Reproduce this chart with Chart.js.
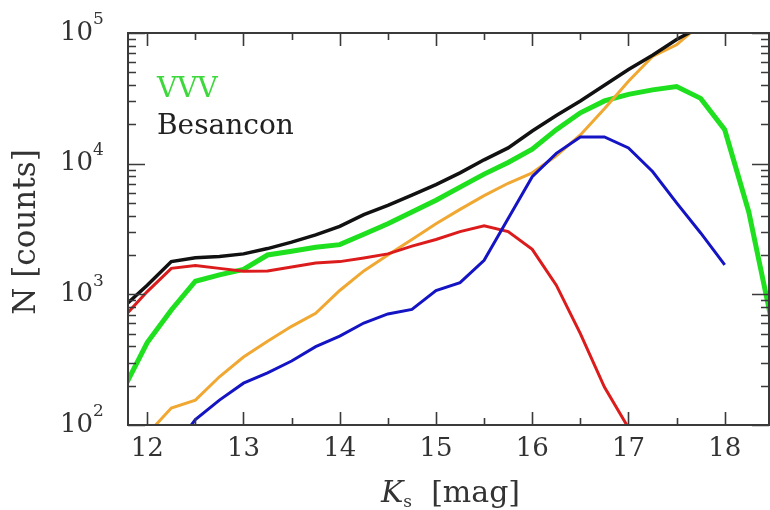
<!DOCTYPE html>
<html>
<head>
<meta charset="utf-8">
<script src="https://cdn.jsdelivr.net/npm/chart.js@4.4.1/dist/chart.umd.min.js"></script>
<style>
  html, body { margin: 0; padding: 0; background: #fff; }
  #wrap { width: 770px; height: 510px; }
</style>
</head>
<body>
<div id="wrap"><canvas id="ksChart" width="770" height="510"></canvas></div>
<script>
// Ks magnitude bins (0.25 mag)
const mags = [11.75, 12.0, 12.25, 12.5, 12.75, 13.0, 13.25, 13.5, 13.75, 14.0, 14.25, 14.5, 14.75,
  15.0, 15.25, 15.5, 15.75, 16.0, 16.25, 16.5, 16.75, 17.0, 17.25, 17.5, 17.75, 18.0, 18.25, 18.5];

// star counts per bin
const besancon = [795, 1175, 1780, 1905, 1950, 2040, 2240, 2510, 2850, 3310, 4070, 4790, 5750,
  6920, 8510, 10700, 13200, 17800, 23400, 30200, 39800, 52500, 67600, 89100, 112000, null, null, null];
const vvv = [186, 427, 759, 1260, 1410, 1550, 2000, 2140, 2290, 2400, 2880, 3470, 4270,
  5250, 6610, 8320, 10200, 12900, 18200, 24500, 30200, 33900, 36700, 38900, 31600, 18200, 4270, 562];
const redCounts = [661, 1050, 1580, 1660, 1580, 1500, 1510, 1620, 1740, 1780, 1900, 2040, 2340,
  2630, 3020, 3350, 3020, 2210, 1175, 500, 195, 95, null, null, null, null, null, null];
const orangeCounts = [null, 85, 135, 155, 234, 331, 437, 569, 716, 1070, 1510, 2000, 2630,
  3470, 4470, 5690, 7080, 8510, 11500, 16600, 26300, 42700, 66100, 81300, 117000, null, null, null];
const blueCounts = [null, null, 63, 110, 155, 209, 251, 309, 398, 479, 603, 708, 767,
  1070, 1230, 1820, 3800, 7940, 12000, 16000, 16000, 13200, 8710, 5010, 2950, 1680, null, null];

const xTicks = [12, 13, 14, 15, 16, 17, 18];
const yDecades = [2, 3, 4, 5];

const pts = arr => mags.map((m, i) => ({ x: m, y: arr[i] })).filter(p => p.y !== null);
const line = (data, color, w) => ({ data: pts(data), borderColor: color, borderWidth: w,
  pointRadius: 0, tension: 0, fill: false });

const serif = '"DejaVu Serif", serif';

// frame, inward ticks, labels and titles
const axesPlugin = {
  id: 'axesPlugin',
  afterDraw(chart) {
    const { ctx, chartArea: a, scales: { x, y } } = chart;
    ctx.save();
    ctx.strokeStyle = '#3a3a3a';
    ctx.lineWidth = 2;
    ctx.strokeRect(a.left, a.top, a.right - a.left, a.bottom - a.top);

    ctx.lineWidth = 1.6;
    ctx.beginPath();
    for (let v = 12; v <= x.max; v += 0.5) {
      const px = Math.round(x.getPixelForValue(v)) + 0.5;
      const len = Number.isInteger(v) ? 13 : 7;
      ctx.moveTo(px, a.bottom); ctx.lineTo(px, a.bottom - len);
      ctx.moveTo(px, a.top); ctx.lineTo(px, a.top + len);
    }
    yDecades.forEach(d => {
      for (let m = 1; m <= 9; m++) {
        const v = m * Math.pow(10, d);
        if (v > y.max) break;
        const py = Math.round(y.getPixelForValue(v)) + 0.5;
        const len = m === 1 ? 17 : 8;
        ctx.moveTo(a.left, py); ctx.lineTo(a.left + len, py);
        ctx.moveTo(a.right, py); ctx.lineTo(a.right - len, py);
      }
    });
    ctx.stroke();

    ctx.fillStyle = '#333';
    ctx.font = '26px ' + serif;
    ctx.textAlign = 'center';
    ctx.textBaseline = 'middle';
    xTicks.forEach(v => ctx.fillText(String(v), x.getPixelForValue(v), a.bottom + 24));

    yDecades.forEach(d => {
      const py = y.getPixelForValue(Math.pow(10, d));
      ctx.font = '26px ' + serif;
      ctx.textAlign = 'right';
      ctx.fillText('10', 93, py);
      ctx.font = '17px ' + serif;
      ctx.textAlign = 'left';
      ctx.fillText(String(d), 93, py - 13);
    });

    // x title: K_s [mag]
    ctx.textBaseline = 'alphabetic';
    ctx.textAlign = 'left';
    const kFont = 'italic 30px ' + serif, sFont = '17px ' + serif, rFont = '30px ' + serif;
    ctx.font = kFont; const wK = ctx.measureText('K').width;
    ctx.font = sFont; const wS = ctx.measureText('s').width;
    ctx.font = rFont; const rest = '  [mag]'; const wR = ctx.measureText(rest).width;
    let tx = (a.left + a.right) / 2 + 2 - (wK + wS + wR) / 2;
    const base = 502;
    ctx.font = kFont; ctx.fillText('K', tx, base); tx += wK;
    ctx.font = sFont; ctx.fillText('s', tx, base + 5); tx += wS;
    ctx.font = rFont; ctx.fillText(rest, tx, base);

    // y title
    ctx.save();
    ctx.translate(27, (a.top + a.bottom) / 2 + 3);
    ctx.rotate(-Math.PI / 2);
    ctx.font = '31px ' + serif;
    ctx.textAlign = 'center';
    ctx.textBaseline = 'middle';
    ctx.fillText('N [counts]', 0, 0);
    ctx.restore();

    // labels inside the frame
    ctx.font = '28px ' + serif;
    ctx.textAlign = 'left';
    ctx.textBaseline = 'middle';
    ctx.fillStyle = '#3cd83c';
    ctx.fillText('VVV', 157, 90);
    ctx.fillStyle = '#222';
    ctx.fillText('Besancon', 157, 127);
    ctx.restore();
  }
};

new Chart(document.getElementById('ksChart'), {
  type: 'line',
  data: {
    datasets: [
      line(besancon, '#111111', 3.5),
      line(blueCounts, '#1414c4', 3),
      line(redCounts, '#dc1c1c', 3),
      line(orangeCounts, '#f0a832', 3),
      line(vvv, '#1ee01e', 5)
    ]
  },
  options: {
    responsive: false,
    devicePixelRatio: 1,
    animation: false,
    layout: { padding: { left: 128, right: 1, top: 33, bottom: 85 } },
    scales: {
      x: { type: 'linear', min: 11.8, max: 18.46, display: false },
      y: { type: 'logarithmic', min: 100, max: 100000, display: false }
    },
    plugins: { legend: { display: false }, tooltip: { enabled: false } }
  },
  plugins: [axesPlugin]
});
</script>
</body>
</html>
